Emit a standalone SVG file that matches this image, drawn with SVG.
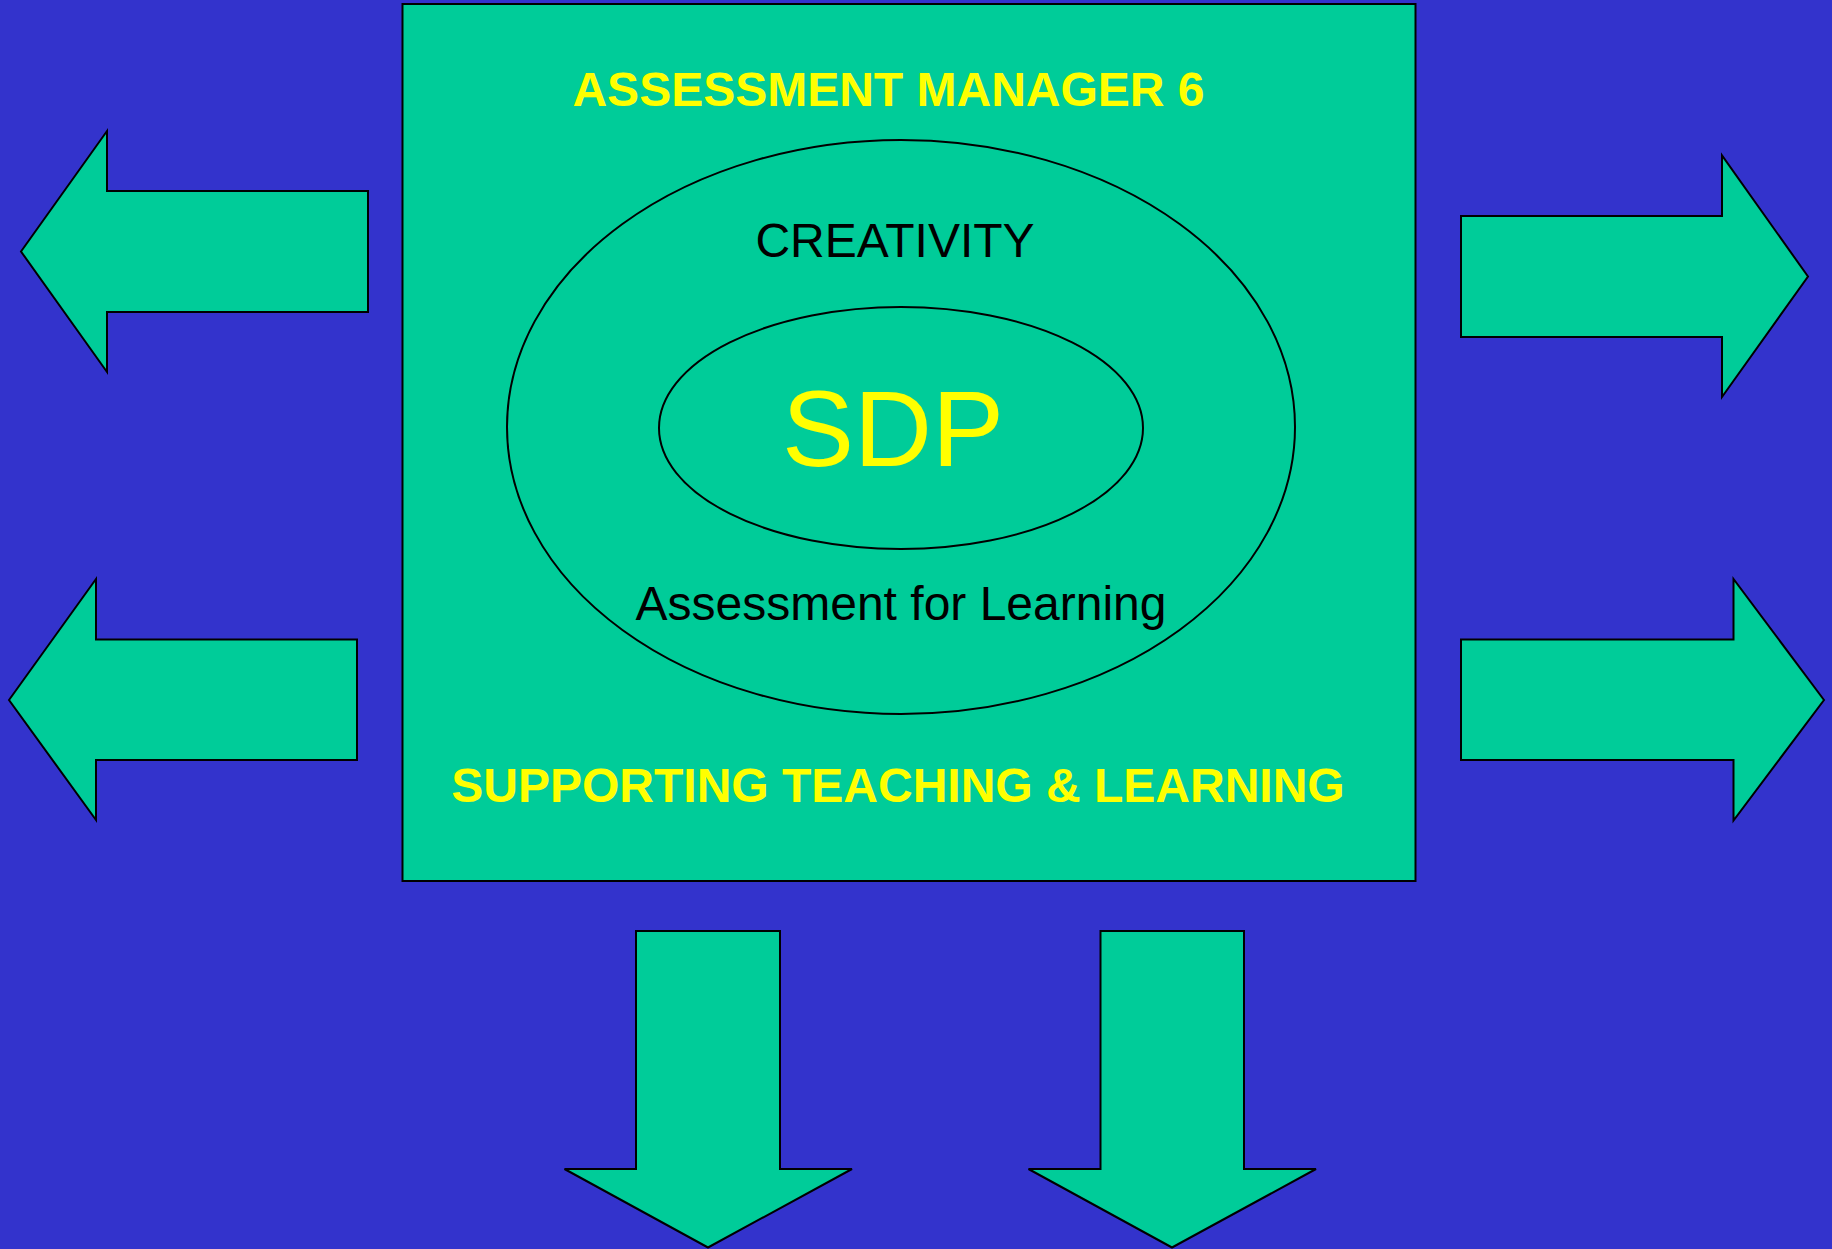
<svg xmlns="http://www.w3.org/2000/svg" width="1832" height="1249" viewBox="0 0 1832 1249">
<style>
.shape{fill:#00CC99;stroke:#000;stroke-width:2;stroke-linejoin:miter}
.ttl{font-family:"Liberation Sans",Arial,sans-serif;font-weight:bold;font-size:48px;fill:#FFFF00;text-anchor:middle}
.lbl{font-family:"Liberation Sans",Arial,sans-serif;font-size:48px;fill:#000;text-anchor:middle}
.big{font-family:"Liberation Sans",Arial,sans-serif;font-size:108px;fill:#FFFF00;text-anchor:middle}
</style>
<rect width="1832" height="1249" fill="#3333CC"/>
<g id="main">
<rect class="shape" x="402.5" y="4" width="1013" height="877"/>
<text class="ttl" x="888.5" y="106">ASSESSMENT MANAGER 6</text>
<text class="ttl" x="898" y="802">SUPPORTING TEACHING &amp; LEARNING</text>
</g>
<g id="outer">
<ellipse class="shape" cx="901" cy="427" rx="394" ry="287"/>
<text class="lbl" x="895" y="257">CREATIVITY</text>
<text class="lbl" x="901" y="620">Assessment for Learning</text>
</g>
<g id="inner">
<ellipse class="shape" cx="901" cy="428" rx="242" ry="121"/>
<text class="big" x="893" y="466">SDP</text>
</g>
<g id="connectors">
<polygon id="arrow-left-top" class="shape" points="21,251.5 107,131 107,191 368,191 368,312 107,312 107,372"/>
<polygon id="arrow-left-bottom" class="shape" points="9,700 96,579 96,639.5 357,639.5 357,760 96,760 96,820"/>
<polygon id="arrow-right-top" class="shape" points="1808,276.5 1722,155.5 1722,216 1461,216 1461,337 1722,337 1722,397"/>
<polygon id="arrow-right-bottom" class="shape" points="1824,700 1733.5,579 1733.5,639.5 1461,639.5 1461,760 1733.5,760 1733.5,820.5"/>
<polygon id="arrow-down-left" class="shape" points="708,1247.5 852,1169 780,1169 780,931 636,931 636,1169 564.5,1169"/>
<polygon id="arrow-down-right" class="shape" points="1172,1247.5 1316,1169 1244,1169 1244,931 1100.5,931 1100.5,1169 1028.5,1169"/>
</g>
</svg>
